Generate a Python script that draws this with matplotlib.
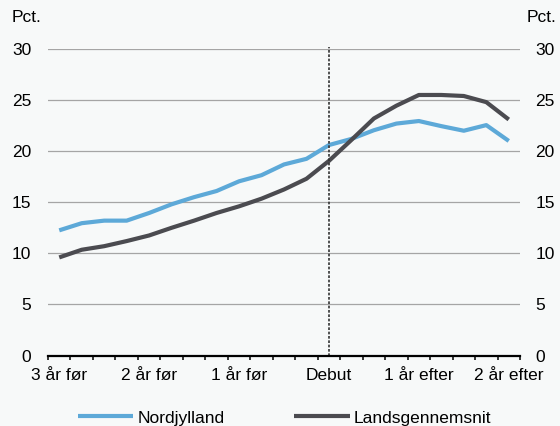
import matplotlib
matplotlib.use("Agg")
import matplotlib.pyplot as plt
import numpy as np

plt.rcParams['font.family'] = ['Liberation Sans', 'DejaVu Sans']

# Data: quarters from 3 years before debut to 2 years after (21 points)
quarters = list(range(-12, 9))
tick_labels = ["3 år før", "2 år før", "1 år før", "Debut", "1 år efter", "2 år efter"]
tick_quarters = [-12, -8, -4, 0, 4, 8]

nordjylland = [12.25, 12.95, 13.2, 13.2, 13.95, 14.8, 15.5, 16.1, 17.05, 17.65,
               18.7, 19.25, 20.6, 21.2, 22.05, 22.7, 22.95, 22.45, 22.0, 22.55, 21.0]
landsgennemsnit = [9.6, 10.35, 10.7, 11.2, 11.75, 12.5, 13.2, 13.95, 14.6, 15.35,
                   16.25, 17.3, 19.05, 21.1, 23.2, 24.45, 25.5, 25.5, 25.4, 24.8, 23.1]

series_names = ["Nordjylland", "Landsgennemsnit"]
colors = ["#5DA9D8", "#4B4B50"]
bg = "#F7F9F9"
fs = 12.5

fig = plt.figure(figsize=(5.6, 4.26), dpi=100, facecolor=bg)
ax = fig.add_axes([48/560, 1-355.5/426, (520-48)/560, (355.5-49)/426])
ax.set_facecolor(bg)

x = np.arange(len(quarters))
ax.plot(x, nordjylland, color=colors[0], lw=3.0, label=series_names[0], solid_capstyle='butt', zorder=3)
ax.plot(x, landsgennemsnit, color=colors[1], lw=3.0, label=series_names[1], solid_capstyle='butt', zorder=4)

debut_idx = quarters.index(0)
ax.axvline(debut_idx, ymin=0, ymax=1.008, color="#333333", lw=1.2,
           linestyle=(0, (1.6, 1.0)), zorder=5, clip_on=False)

ax.set_xlim(-0.5, len(quarters) - 0.5)
ax.set_ylim(0, 30)
yt = [0, 5, 10, 15, 20, 25, 30]
ax.set_yticks(yt)
ax.set_yticklabels([str(v) for v in yt], fontsize=fs)
for v in yt[1:]:
    ax.axhline(v, color="#A5A5A5", lw=0.9, zorder=1)

ax.set_xticks([quarters.index(q) for q in tick_quarters])
ax.set_xticklabels(tick_labels, fontsize=fs)
ax.set_xticks(np.arange(-0.5, len(quarters), 1.0), minor=True)
ax.tick_params(axis='x', which='major', length=0, pad=9, colors='black')
ax.tick_params(axis='x', which='minor', length=3, width=1.1, direction='out', color='black')
ax.tick_params(axis='y', length=0, pad=12)

for s in ['top', 'right', 'left']:
    ax.spines[s].set_visible(False)
ax.spines['bottom'].set_linewidth(1.6)
ax.spines['bottom'].set_color('black')
ax.spines['bottom'].set_zorder(6)

ax2 = ax.twinx()
ax2.set_ylim(0, 30)
ax2.set_yticks(yt)
ax2.set_yticklabels([str(v) for v in yt], fontsize=fs)
ax2.tick_params(axis='y', length=0, pad=11)
for s in ax2.spines.values():
    s.set_visible(False)

fig.text(12/560, 1-18/426, "Pct.", fontsize=fs, ha='left', va='center')
fig.text(556/560, 1-18/426, "Pct.", fontsize=fs, ha='right', va='center')

fig.legend(*ax.get_legend_handles_labels(), loc='center', bbox_to_anchor=(0.508, 1-418/426),
           ncol=2, frameon=False, fontsize=fs, handlelength=3.2, handletextpad=0.25,
           columnspacing=4.0, borderpad=0, borderaxespad=0)

fig.savefig("out.png", dpi=100, facecolor=bg)
